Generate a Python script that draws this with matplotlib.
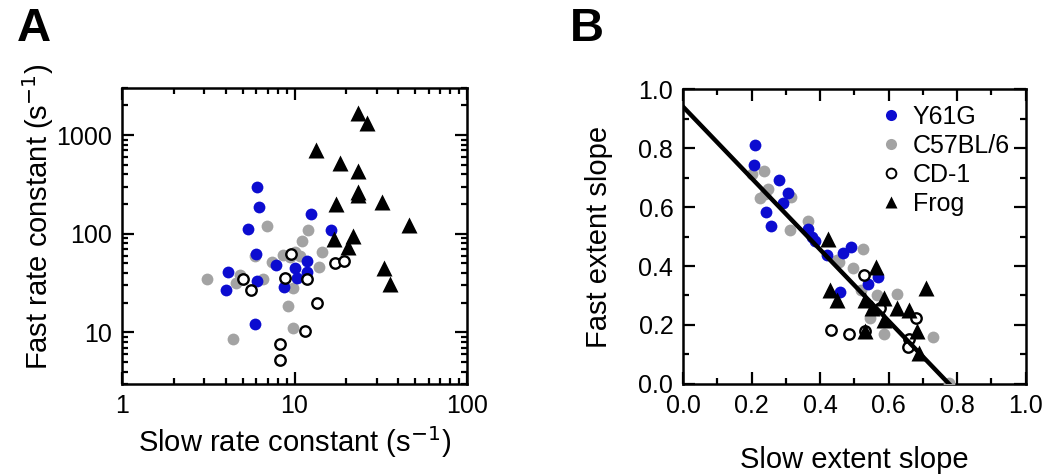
import matplotlib.pyplot as plt
import numpy as np
from matplotlib.lines import Line2D

plt.rcParams['font.family'] = ['Liberation Sans', 'DejaVu Sans']

# ---- panel A data (slow rate, fast rate), s^-1
y61g_slow = [6.1, 6.25, 5.4, 12.5, 16.3, 6.0, 4.1, 4.0, 6.1, 5.9, 7.8, 10.1, 10.3, 11.8, 11.8, 8.7]
y61g_fast = [300, 186, 112, 158, 110, 63, 41, 27, 33, 12.3, 48, 45, 36, 53, 41, 29]

c57_slow = [6.9, 11.9, 11.0, 14.4, 13.9, 3.1, 4.8, 4.6, 6.6, 7.4, 5.9, 8.6, 9.4, 10.8, 10.1, 9.8, 9.2, 9.85, 4.4]
c57_fast = [121, 110, 85, 66, 46, 35, 38, 32, 35, 52, 60, 61, 58, 60, 66, 28, 18.7, 11, 8.6]

cd1_slow = [5.05, 5.6, 8.8, 11.8, 9.6, 17.2, 19.4, 13.5, 11.5, 8.25, 8.25]
cd1_fast = [35, 27, 36, 35, 63, 50, 53, 20, 10.3, 7.6, 5.3]

frog_slow = [23.4, 26.4, 13.3, 18.4, 23.2, 23.2, 23.2, 17.4, 32.3, 46.3, 17.0, 21.8, 20.5, 33, 35.8]
frog_fast = [1660, 1313, 705, 518, 437, 267, 248, 200, 209, 123, 88, 94, 74, 45, 31]

# ---- panel B data (slow extent slope, fast extent slope)
y61g_sx = [0.21, 0.207, 0.28, 0.307, 0.293, 0.242, 0.258, 0.366, 0.376, 0.384, 0.42, 0.468, 0.49, 0.568, 0.541, 0.459]
y61g_fx = [0.81, 0.742, 0.692, 0.648, 0.612, 0.583, 0.534, 0.526, 0.5, 0.484, 0.438, 0.443, 0.466, 0.364, 0.338, 0.312]

c57_sx = [0.2, 0.235, 0.249, 0.226, 0.238, 0.315, 0.313, 0.364, 0.449, 0.526, 0.454, 0.497, 0.519, 0.566, 0.625, 0.547, 0.588, 0.729, 0.778]
c57_fx = [0.712, 0.722, 0.662, 0.629, 0.645, 0.635, 0.521, 0.554, 0.42, 0.456, 0.415, 0.392, 0.319, 0.302, 0.306, 0.225, 0.168, 0.158, 0.004]

cd1_sx = [0.528, 0.576, 0.679, 0.66, 0.656, 0.431, 0.485, 0.53]
cd1_fx = [0.369, 0.256, 0.223, 0.152, 0.125, 0.182, 0.171, 0.178]

frog_sx = [0.422, 0.562, 0.428, 0.451, 0.709, 0.53, 0.588, 0.551, 0.625, 0.66, 0.588, 0.682, 0.53, 0.69]
frog_fx = [0.49, 0.395, 0.318, 0.285, 0.324, 0.285, 0.293, 0.258, 0.256, 0.252, 0.218, 0.18, 0.178, 0.105]

# linear fit drawn in B
fit_intercept = 0.94
fit_slope = -1.21

blue = '#0c0cd0'
gray = '#a3a3a3'

fig = plt.figure(figsize=(10.5, 4.75), dpi=100)
axA = fig.add_axes([0.1162, 0.1916, 0.3286, 0.6231])
axB = fig.add_axes([0.6505, 0.1916, 0.3262, 0.621])

ms_c = 8.5
ms_t = 11


def draw(ax, xs, ys):
    ax.plot(xs[1], ys[1], 'o', color=gray, ms=ms_c, mec='none', zorder=3)
    ax.plot(xs[0], ys[0], 'o', color=blue, ms=ms_c, mec='none', zorder=3)
    ax.plot(xs[2], ys[2], 'o', mfc='white', mec='black', mew=1.7, ms=ms_c - 1, zorder=3)
    ax.plot(xs[3], ys[3], '^', color='black', ms=ms_t, mec='none', zorder=5)


draw(axA, [y61g_slow, c57_slow, cd1_slow, frog_slow], [y61g_fast, c57_fast, cd1_fast, frog_fast])
draw(axB, [y61g_sx, c57_sx, cd1_sx, frog_sx], [y61g_fx, c57_fx, cd1_fx, frog_fx])

# fit line
x_end = -fit_intercept / fit_slope
xl = np.array([0.0, x_end])
axB.plot(xl, fit_intercept + fit_slope * xl, color='black', lw=3.2, zorder=4)

# axes A
axA.set_xscale('log')
axA.set_yscale('log')
axA.set_xlim(1, 100)
axA.set_ylim(3, 3000)
axA.set_xticks([1, 10, 100])
axA.set_xticklabels(['1', '10', '100'])
axA.set_yticks([10, 100, 1000])
axA.set_yticklabels(['10', '100', '1000'])
axA.set_xlabel('Slow rate constant (s$^{-1}$)', fontsize=21)
axA.set_ylabel('Fast rate constant (s$^{-1}$)', fontsize=21)
axA.xaxis.set_label_coords(0.5, -0.135)
axA.yaxis.set_label_coords(-0.19, 0.565)

# axes B
axB.set_xlim(0, 1)
axB.set_ylim(0, 1)
axB.set_xticks(np.arange(0, 1.01, 0.2))
axB.set_yticks(np.arange(0, 1.01, 0.2))
axB.set_xticks(np.arange(0.1, 1.0, 0.2), minor=True)
axB.set_yticks(np.arange(0.1, 1.0, 0.2), minor=True)
axB.set_xticklabels(['0.0', '0.2', '0.4', '0.6', '0.8', '1.0'])
axB.set_yticklabels(['0.0', '0.2', '0.4', '0.6', '0.8', '1.0'])
axB.set_xlabel('Slow extent slope', fontsize=21)
axB.set_ylabel('Fast extent slope', fontsize=21)
axB.xaxis.set_label_coords(0.5, -0.21)
axB.yaxis.set_label_coords(-0.205, 0.5)

for ax in (axA, axB):
    for sp in ax.spines.values():
        sp.set_linewidth(1.8)
    ax.tick_params(which='both', direction='in', top=True, right=True, width=1.6, labelsize=18, pad=7)
    ax.tick_params(which='major', length=8.5)
    ax.tick_params(which='minor', length=4.5)

# legend in B
handles = [
    Line2D([], [], ls='none', marker='o', color=blue, mec='none', ms=8),
    Line2D([], [], ls='none', marker='o', color=gray, mec='none', ms=8),
    Line2D([], [], ls='none', marker='o', mfc='white', mec='black', mew=1.4, ms=7),
    Line2D([], [], ls='none', marker='^', color='black', mec='none', ms=9),
]
axB.legend(handles, ['Y61G', 'C57BL/6', 'CD-1', 'Frog'], loc='upper left',
           bbox_to_anchor=(0.55, 0.98), frameon=False, fontsize=18,
           handlelength=0.8, handletextpad=0.45, labelspacing=0.2, borderaxespad=0)

fig.text(0.016, 0.985, 'A', fontsize=34, fontweight='bold', ha='left', va='top')
fig.text(0.543, 0.985, 'B', fontsize=34, fontweight='bold', ha='left', va='top')

fig.savefig('out.png', dpi=100)
